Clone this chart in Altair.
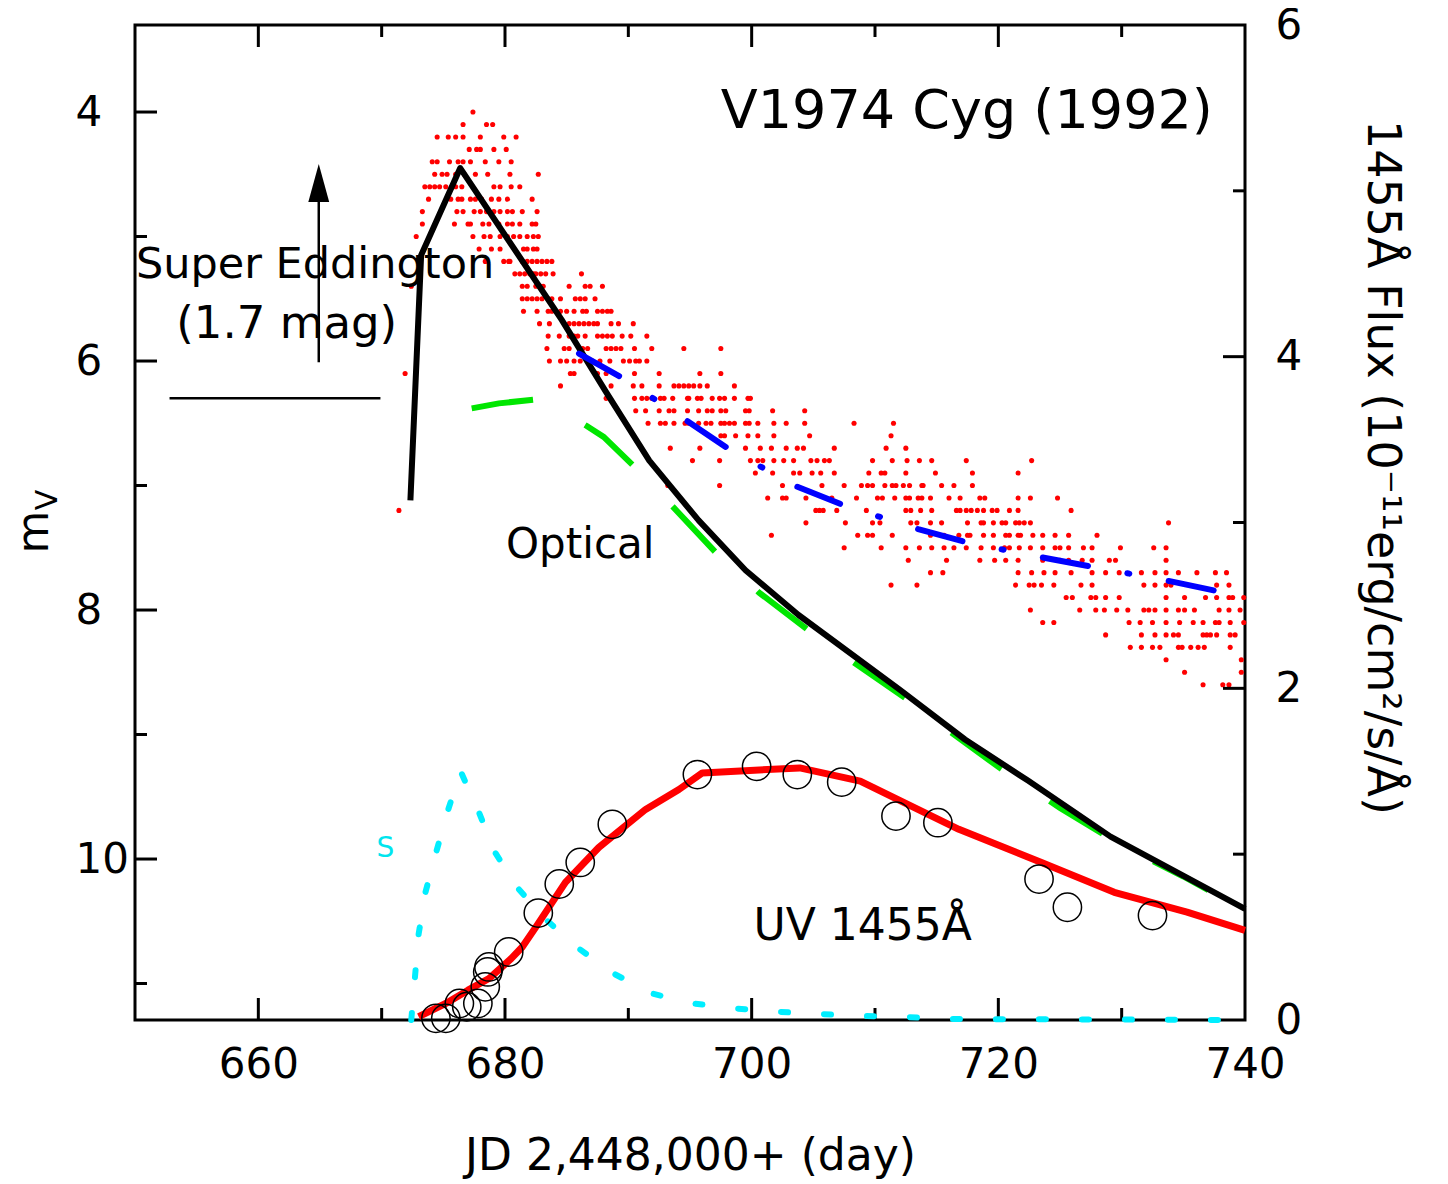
import altair as alt
import pandas as pd

# ---------------- data ----------------
# V-band photometry (red dots): magnitude rows and the days observed in each row
v_mag_rows = [4.0, 4.1, 4.2, 4.3, 4.4, 4.5, 4.6, 4.7, 4.8, 4.9,
              5.0, 5.1, 5.2, 5.3, 5.4, 5.5, 5.6, 5.7, 5.8, 5.9,
              6.0, 6.1, 6.2, 6.3, 6.4, 6.5, 6.6, 6.7, 6.8, 6.9,
              7.0, 7.1, 7.2, 7.3, 7.4, 7.5, 7.6, 7.7, 7.8, 7.9,
              8.0, 8.1, 8.2, 8.3, 8.4, 8.5, 8.6]
v_day_rows = [
    [677.4],
    [676.6, 678.5, 679.0],
    [674.5, 675.4, 676.0, 676.6, 678.0, 679.9, 680.9],
    [677.1, 677.7, 678.0, 679.1, 680.1],
    [674.1, 674.5, 675.5, 676.2, 676.6, 677.2, 678.4, 679.5, 680.5],
    [674.3, 674.9, 675.3, 676.0, 676.7, 677.6, 678.6, 680.4, 682.7],
    [673.5, 673.9, 674.3, 674.7, 675.2, 675.7, 676.0, 676.5, 679.1, 679.6, 680.5, 681.2],
    [673.8, 675.6, 676.2, 676.5, 677.2, 677.6, 678.1, 678.9, 679.5, 680.2, 682.2],
    [673.3, 676.1, 676.6, 677.5, 678.0, 678.5, 679.1, 679.6, 680.2, 680.6, 681.4, 682.6],
    [673.3, 675.9, 677.0, 677.2, 678.2, 678.7, 679.5, 680.2, 680.6, 681.2, 682.2, 682.5],
    [672.8, 677.4, 678.3, 678.8, 679.6, 680.2, 680.7, 681.2, 681.8, 682.3, 682.7],
    [677.9, 678.9, 679.6, 681.5, 681.8, 682.3, 682.6],
    [678.4, 679.9, 680.3, 680.4, 681.4, 681.8, 682.2, 682.6, 683.0, 683.4, 683.8],
    [680.8, 681.2, 681.6, 682.0, 682.3, 682.5, 682.9, 683.3, 683.9, 686.2],
    [672.4, 681.4, 681.8, 682.5, 682.9, 683.1, 685.2, 686.5, 686.9, 687.9],
    [681.4, 681.8, 682.2, 682.6, 683.0, 683.5, 683.8, 684.5, 685.7, 686.1, 686.5, 687.3],
    [681.5, 682.6, 683.5, 683.8, 684.5, 685.0, 685.6, 686.3, 686.6, 687.5, 687.9, 688.3, 688.6],
    [682.8, 683.6, 685.2, 685.6, 686.0, 686.4, 686.8, 687.2, 687.5, 688.6, 689.2, 690.4],
    [683.5, 684.4, 685.2, 685.6, 685.9, 686.5, 687.5, 687.9, 688.3, 688.7, 689.5, 690.2, 691.5],
    [683.4, 684.8, 685.2, 686.3, 686.7, 688.2, 688.6, 689.0, 689.4, 690.5, 691.9, 694.5, 697.5],
    [683.6, 684.5, 685.0, 685.6, 686.1, 686.7, 687.1, 687.7, 688.5, 689.6, 690.1, 690.6, 690.9, 691.5],
    [671.9, 685.3, 685.6, 687.5, 688.2, 690.5, 692.5, 695.8, 697.5],
    [684.5, 688.6, 690.4, 691.1, 692.5, 693.7, 694.1, 694.5, 694.9, 695.3, 695.8, 696.4, 698.6],
    [688.2, 690.5, 691.1, 691.5, 691.9, 692.6, 692.9, 693.6, 694.8, 694.9, 695.6, 695.9, 696.8,
     697.4, 697.8, 698.6, 699.7, 699.9],
    [690.6, 691.4, 692.5, 693.3, 693.7, 694.8, 695.7, 696.4, 696.8, 697.5, 697.9, 699.5, 699.8,
     701.7, 704.3],
    [691.6, 692.6, 693.0, 693.7, 694.6, 694.9, 695.7, 696.3, 696.7, 697.5, 697.8, 698.2, 698.6,
     699.5, 699.8, 700.5, 701.8, 702.8, 704.3, 708.3, 711.5],
    [697.5, 697.8, 698.7, 699.7, 700.5, 701.8, 704.7, 711.3],
    [693.4, 695.8, 699.5, 700.7, 701.6, 702.8, 703.7, 704.2, 706.7, 710.9, 712.5],
    [695.2, 697.4, 699.9, 700.5, 700.9, 701.8, 702.6, 703.4, 704.8, 705.3, 705.9, 706.3, 709.8,
     711.4, 712.6, 713.6, 714.6, 717.4, 722.7],
    [700.3, 701.7, 703.4, 703.9, 704.9, 705.6, 706.7, 709.5, 710.5, 710.8, 712.5, 714.9, 717.9, 721.6],
    [693.2, 697.4, 702.5, 705.7, 707.5, 708.9, 709.4, 709.8, 710.8, 711.4, 711.7, 712.3, 712.8,
     713.8, 713.9, 715.4, 716.4, 717.9],
    [701.3, 702.5, 702.8, 704.4, 706.5, 708.5, 710.2, 710.6, 711.6, 712.5, 712.8, 713.5, 713.8,
     714.5, 716.0, 716.9, 718.5, 718.9, 721.6, 722.6, 724.8],
    [671.4, 705.2, 705.5, 705.8, 706.9, 709.3, 712.5, 712.9, 713.7, 714.6, 716.6, 716.9, 717.4,
     717.8, 718.3, 718.8, 719.5, 719.9, 720.9, 721.6, 725.9],
    [704.4, 707.6, 709.8, 710.4, 712.9, 713.4, 714.5, 715.4, 717.5, 718.6, 718.8, 719.6, 720.3,
     720.6, 721.4, 721.7, 722.1, 722.6, 733.8],
    [701.6, 708.6, 709.4, 709.8, 711.4, 714.5, 715.6, 716.8, 717.5, 717.7, 718.8, 719.6, 720.6,
     720.9, 721.6, 721.8, 722.8, 723.6, 724.6, 725.7, 728.0],
    [707.5, 710.5, 712.5, 713.6, 714.6, 715.6, 716.4, 717.4, 718.6, 719.6, 720.5, 720.9, 721.7,
     722.6, 723.6, 724.6, 725.0, 725.7, 726.9, 727.6, 729.9, 732.6, 733.6],
    [712.7, 715.8, 718.5, 719.7, 720.6, 721.6, 723.6, 725.0, 725.7, 726.8, 727.6, 729.0, 729.5, 733.6],
    [714.5, 715.5, 721.6, 722.7, 723.7, 724.6, 725.9, 727.6, 728.7, 729.8, 731.6, 732.7, 733.6,
     734.6, 736.1, 737.6, 738.5],
    [711.3, 713.4, 721.4, 722.5, 722.9, 723.5, 724.5, 726.7, 727.6, 731.8, 732.7, 733.6, 734.0,
     737.7, 738.7],
    [725.5, 726.0, 727.5, 727.9, 728.7, 729.8, 733.6, 735.1, 736.8, 737.7, 738.7, 739.0, 739.9],
    [722.6, 726.6, 727.9, 728.6, 729.6, 730.5, 731.8, 732.2, 732.7, 733.6, 734.6, 735.1, 735.9,
     737.9, 738.7, 739.6],
    [723.6, 724.5, 730.6, 731.5, 732.5, 733.6, 734.7, 735.8, 736.6, 737.6, 737.9, 738.8, 739.9],
    [728.7, 731.6, 732.7, 733.6, 734.2, 734.6, 736.6, 736.9, 737.2, 737.7, 738.8, 739.2],
    [730.7, 731.6, 732.5, 733.1, 734.6, 734.9, 735.6, 736.2, 736.7, 738.8],
    [733.6, 739.7],
    [735.1, 739.7],
    [736.6, 738.2, 738.7],
]

# optical model light curve (black)
opt_day = [672.33, 673.2, 676.37, 684.6, 688.2, 691.7, 695.7, 699.5, 703.8, 712.0, 717.3, 722.4, 729.1, 740.0]
opt_mag = [7.12, 5.15, 4.45, 5.67, 6.25, 6.80, 7.28, 7.68, 8.04, 8.64, 9.04, 9.37, 9.82, 10.40]

# green dashed component
grn_day = [677.3, 679.5, 682.3, 684.5, 686.6, 688.0, 690.5, 693.7, 697.2, 700.6, 704.7, 708.7, 712.8, 716.0, 720.0, 725.0, 730.0, 735.0, 740.0]
grn_mag = [6.38, 6.34, 6.31, 6.40, 6.52, 6.61, 6.85, 7.18, 7.55, 7.86, 8.17, 8.45, 8.73, 8.97, 9.26, 9.59, 9.89, 10.14, 10.41]

# blue dash-dot fit
blu_day = [686.0, 689.6, 694.75, 698.2, 703.7, 707.5, 713.5, 717.6, 723.7, 728.0, 734.0, 738.3]
blu_mag = [5.94, 6.14, 6.48, 6.71, 7.01, 7.16, 7.35, 7.46, 7.58, 7.66, 7.77, 7.86]

# UV 1455A model (red line) and observations (open circles)
uv_day = [673.0, 675.2, 677.0, 678.7, 680.5, 681.4, 682.5, 684.9, 687.6, 691.4, 694.1, 696.0, 703.9, 708.8, 716.8, 723.5, 729.4, 735.3, 740.0]
uv_flux = [0.02, 0.10, 0.18, 0.25, 0.37, 0.44, 0.56, 0.83, 1.04, 1.27, 1.39, 1.49, 1.52, 1.44, 1.15, 0.95, 0.77, 0.65, 0.54]

uvobs_day = [674.4, 675.2, 676.3, 676.9, 677.8, 678.4, 678.6, 678.7, 680.3, 682.7, 684.4, 686.1, 688.7,
             695.6, 700.4, 703.7, 707.3, 711.7, 715.1, 723.3, 725.6, 732.5]
uvobs_flux = [0.01, 0.01, 0.10, 0.08, 0.10, 0.20, 0.29, 0.32, 0.41, 0.645, 0.82, 0.95, 1.18,
              1.48, 1.53, 1.48, 1.435, 1.23, 1.19, 0.85, 0.68, 0.63]

# cyan "S" component
ss_day = [672.4, 672.7, 673.0, 673.55, 674.45, 675.4, 676.4, 677.9, 679.2, 681.1, 683.4, 686.0, 688.8,
          691.9, 695.2, 698.6, 702.1, 705.6, 709.1, 712.5, 715.9, 740.0]
ss_flux = [0.0, 0.26, 0.52, 0.77, 1.02, 1.27, 1.50, 1.25, 1.01, 0.79, 0.60, 0.43, 0.28,
           0.16, 0.10, 0.07, 0.05, 0.036, 0.024, 0.018, 0.006, 0.0]

# annotations
se_line_day = [652.8, 669.9]
se_line_mag = [6.30]
arrow_day = [664.9]
arrow_mag = [6.01, 4.72]
arrow_tip_mag = [4.57]

# ticks / labels
x_labels = [660, 680, 700, 720, 740]
x_major = [660, 680, 700, 720]
x_minor = [670, 690, 710, 730]
mag_labels = [4, 6, 8, 10]
mag_minor = [5, 7, 9, 11]
flux_labels = [0, 2, 4, 6]
flux_major = [2, 4]
flux_minor = [1, 3, 5]

# ---------------- chart ----------------
W, H = 1110, 995
FONT = "DejaVu Sans"
XT = "JD 2,448,000+ (day)"
RT = "1455Å Flux (10⁻¹¹erg/cm²/s/Å)"
MAJ, MIN = 22, 12

dots = pd.DataFrame(
    [{"day": d, "mag": m} for m, row in zip(v_mag_rows, v_day_rows) for d in row]
)

xscale = alt.Scale(domain=[650, 740], nice=False, zero=False)
magscale = alt.Scale(domain=[3.301, 11.293], reverse=True, nice=False, zero=False)
fluxscale = alt.Scale(domain=[0, 6], nice=False, zero=False)

xaxis = alt.Axis(values=x_labels, ticks=False, tickSize=0, domain=False, grid=False,
                 labelFont=FONT, labelFontSize=42, labelColor="black", labelPadding=24,
                 labelFlush=False, labelOverlap=False,
                 title=XT, titleFont=FONT, titleFontSize=44, titleFontWeight="normal",
                 titleColor="black", titleY=136, titleBaseline="middle")
magaxis = alt.Axis(orient="left", values=mag_labels, ticks=False, tickSize=0, domain=False,
                   grid=False, labelFont=FONT, labelFontSize=42, labelColor="black",
                   labelAlign="left", labelBaseline="middle", labelPadding=60,
                   labelOverlap=False, title=None)
fluxaxis = alt.Axis(orient="right", values=flux_labels, ticks=False, tickSize=0, domain=False,
                    grid=False, labelFont=FONT, labelFontSize=42, labelColor="black",
                    labelAlign="left", labelBaseline="middle", labelPadding=30,
                    labelOverlap=False, labelFlush=False,
                    title=RT, titleFont=FONT, titleFontSize=46, titleFontWeight="normal",
                    titleColor="black", titleAngle=90, titleX=136, titleY=442,
                    titleAlign="center", titleBaseline="middle")


def X(f):
    return alt.X(f, type="quantitative", scale=xscale, axis=xaxis)


def YM(f):
    return alt.Y(f, type="quantitative", scale=magscale, axis=magaxis)


def YF(f):
    return alt.Y(f, type="quantitative", scale=fluxscale, axis=fluxaxis)


# --- left (magnitude) group ---
red_dots = alt.Chart(dots).mark_circle(size=26, color="#ff0000", opacity=1).encode(
    x=X("day"), y=YM("mag"))

green = alt.Chart(pd.DataFrame({"day": grn_day, "mag": grn_mag})).mark_line(
    color="#00e600", strokeWidth=6, strokeDash=[62, 58]).encode(x=X("day"), y=YM("mag"))

black = alt.Chart(pd.DataFrame({"day": opt_day, "mag": opt_mag})).mark_line(
    color="black", strokeWidth=6, strokeJoin="round").encode(x=X("day"), y=YM("mag"))

blue = alt.Chart(pd.DataFrame({"day": blu_day, "mag": blu_mag})).mark_line(
    color="#0000ff", strokeWidth=6, strokeCap="round", strokeDash=[46, 40, 2, 40]).encode(
    x=X("day"), y=YM("mag"))

se_line = alt.Chart(pd.DataFrame({"d1": [se_line_day[0]], "d2": [se_line_day[1]], "mag": se_line_mag})
                    ).mark_rule(color="black", strokeWidth=2.5).encode(
    x=X("d1"), x2="d2", y=YM("mag"))

arrow_shaft = alt.Chart(pd.DataFrame({"day": arrow_day, "m1": [arrow_mag[0]], "m2": [arrow_mag[1]]})
                        ).mark_rule(color="black", strokeWidth=2.5).encode(
    x=X("day"), y=YM("m1"), y2="m2")

arrow_head = alt.Chart(pd.DataFrame({"day": arrow_day, "mag": arrow_tip_mag})).mark_point(
    shape="M0,-1L-0.55,1L0.55,1Z", filled=True, fill="black", stroke="black", strokeWidth=0,
    size=1444, opacity=1).encode(x=X("day"), y=YM("mag"))


def label(day, mag, text, size=42, align="center", color="black"):
    return alt.Chart(pd.DataFrame({"day": [day], "mag": [mag], "t": [text]})).mark_text(
        font=FONT, fontSize=size, align=align, baseline="alphabetic", color=color).encode(
        x=X("day"), y=YM("mag"), text="t:N")


t_title = label(737.4, 4.13, "V1974 Cyg (1992)", size=54, align="right")
t_se1 = label(664.6, 5.333, "Super Eddington", size=43)
t_se2 = label(662.3, 5.815, "(1.7 mag)", size=45)
t_opt = label(686.1, 7.58, "Optical", size=42)
t_uv = label(709.0, 10.65, "UV 1455Å", size=44)
t_s = label(670.3, 9.98, "S", size=28, color="#00e5ee")

# inward ticks on left (magnitude) side
lt_major = alt.Chart(pd.DataFrame({"v": mag_labels})).mark_rule(color="black", strokeWidth=3).encode(
    x=alt.value(0), x2=alt.value(MAJ), y=YM("v"))
lt_minor = alt.Chart(pd.DataFrame({"v": mag_minor})).mark_rule(color="black", strokeWidth=3).encode(
    x=alt.value(0), x2=alt.value(MIN), y=YM("v"))


# bottom/top ticks
def xticks(vals, length, top):
    if top:
        yy = dict(y=alt.value(0), y2=alt.value(length))
    else:
        yy = dict(y=alt.value(H), y2=alt.value(H - length))
    return alt.Chart(pd.DataFrame({"v": vals})).mark_rule(color="black", strokeWidth=3).encode(
        x=X("v"), **yy)


bt = [xticks(x_major, MAJ, False), xticks(x_minor, MIN, False),
      xticks(x_major, MAJ, True), xticks(x_minor, MIN, True)]

# left axis title m_V
m_title = alt.Chart(pd.DataFrame({"t": ["m"]})).mark_text(
    font=FONT, fontSize=44, angle=270, align="center", baseline="alphabetic", color="black").encode(
    x=alt.value(-87), y=alt.value(507), text="t:N")
v_sub = alt.Chart(pd.DataFrame({"t": ["V"]})).mark_text(
    font=FONT, fontSize=30, angle=270, align="center", baseline="alphabetic", color="black").encode(
    x=alt.value(-78), y=alt.value(475), text="t:N")

left = alt.layer(red_dots, green, black, blue, se_line, arrow_shaft, arrow_head,
                 t_title, t_se1, t_se2, t_opt, t_uv, t_s, lt_major, lt_minor, *bt,
                 m_title, v_sub)

# --- right (flux) group ---
uv_line = alt.Chart(pd.DataFrame({"day": uv_day, "flux": uv_flux})).mark_line(
    color="#ff0000", strokeWidth=7, strokeJoin="round").encode(x=X("day"), y=YF("flux"))

uv_obs = alt.Chart(pd.DataFrame({"day": uvobs_day, "flux": uvobs_flux})).mark_point(
    shape="circle", filled=False, size=800, stroke="black", strokeWidth=1.5, opacity=1).encode(
    x=X("day"), y=YF("flux"))

cyan = alt.Chart(pd.DataFrame({"day": ss_day, "flux": ss_flux})).mark_line(
    color="#00eeff", strokeWidth=6, strokeCap="round", strokeDash=[7, 36]).encode(
    x=X("day"), y=YF("flux"))

rt_major = alt.Chart(pd.DataFrame({"v": flux_major})).mark_rule(color="black", strokeWidth=3).encode(
    x=alt.value(W), x2=alt.value(W - MAJ), y=YF("v"))
rt_minor = alt.Chart(pd.DataFrame({"v": flux_minor})).mark_rule(color="black", strokeWidth=3).encode(
    x=alt.value(W), x2=alt.value(W - MIN), y=YF("v"))

right = alt.layer(uv_line, cyan, uv_obs, rt_major, rt_minor)

chart = alt.layer(left, right).resolve_scale(y="independent").properties(
    width=W, height=H,
    padding={"left": 127, "top": 17, "right": 180, "bottom": 160},
    autosize=alt.AutoSizeParams(type="none"),
    background="white",
).configure_view(stroke="black", strokeWidth=3)

chart.save("out.html", embed_options={"renderer": "svg", "actions": False})
